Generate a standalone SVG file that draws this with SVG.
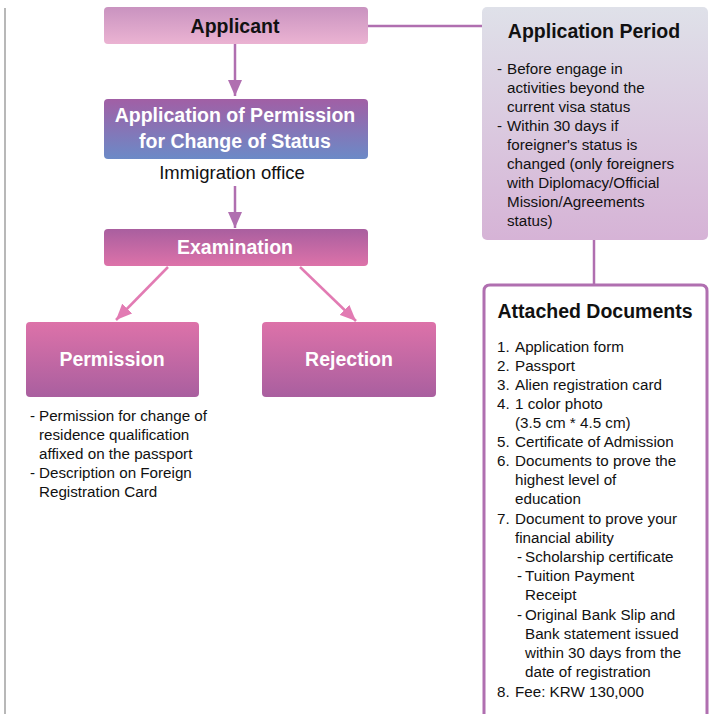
<svg xmlns="http://www.w3.org/2000/svg" width="717" height="714" viewBox="0 0 717 714">
<defs>
<linearGradient id="gApplicant" x1="0" y1="0" x2="0" y2="1"><stop offset="0" stop-color="#c993c0"/><stop offset="1" stop-color="#ebb3d2"/></linearGradient>
<linearGradient id="gApp" x1="0" y1="0" x2="0" y2="1"><stop offset="0" stop-color="#a15fa5"/><stop offset="1" stop-color="#6b8ac7"/></linearGradient>
<linearGradient id="gExam" x1="0" y1="0" x2="0" y2="1"><stop offset="0" stop-color="#a95f9f"/><stop offset="1" stop-color="#dd72a9"/></linearGradient>
<linearGradient id="gRes" x1="0" y1="0" x2="0" y2="1"><stop offset="0" stop-color="#dd72a9"/><stop offset="1" stop-color="#a95f9f"/></linearGradient>
<linearGradient id="gPeriod" x1="0" y1="0" x2="0" y2="1"><stop offset="0" stop-color="#dfe1e9"/><stop offset="1" stop-color="#d6b3d6"/></linearGradient>
<marker id="aPurple" viewBox="0 0 16 14" refX="16" refY="7" markerWidth="16" markerHeight="14" markerUnits="userSpaceOnUse" orient="auto"><path d="M0,0 L16,7 L0,14 Z" fill="#b06fb0"/></marker>
<marker id="aPink" viewBox="0 0 16 14" refX="16" refY="7" markerWidth="16" markerHeight="14" markerUnits="userSpaceOnUse" orient="auto"><path d="M0,0 L16,7 L0,14 Z" fill="#e27bb3"/></marker>
</defs>
<style>
.h{font-family:"Liberation Sans",Arial,sans-serif;font-weight:bold;font-size:19.5px;text-anchor:middle}
.w{fill:#ffffff}
.k{fill:#111111}
.t{font-family:"Liberation Sans",Arial,sans-serif;font-size:15.2px;fill:#111111}
.c{stroke:#b06fb0;stroke-width:2.5;fill:none}
.p{stroke:#e27bb3;stroke-width:2.5;fill:none}
</style>
<rect width="717" height="714" fill="#ffffff"/>
<line x1="5" y1="8" x2="5" y2="714" stroke="#a0a0a0" stroke-width="1.5"/>
<g id="connectors">
<line class="c" x1="368" y1="26" x2="483" y2="26"/>
<line class="c" x1="235" y1="44" x2="235" y2="96" marker-end="url(#aPurple)"/>
<line class="c" x1="235" y1="186" x2="235" y2="228" marker-end="url(#aPurple)"/>
<line class="p" x1="168" y1="267" x2="116" y2="320" marker-end="url(#aPink)"/>
<line class="p" x1="300" y1="267" x2="356" y2="321" marker-end="url(#aPink)"/>
<line class="c" x1="594" y1="240" x2="594" y2="284"/>
</g>
<g id="applicant">
<rect x="104" y="7" width="264" height="37" rx="4" fill="url(#gApplicant)"/>
<text class="h k" x="235" y="33">Applicant</text>
</g>
<g id="application">
<rect x="104" y="99" width="264" height="60" rx="4" fill="url(#gApp)"/>
<text class="h w" x="235" y="122">Application of Permission</text>
<text class="h w" x="235" y="148">for Change of Status</text>
<text class="t" x="232" y="179" style="font-size:18.5px;text-anchor:middle">Immigration office</text>
</g>
<g id="examination">
<rect x="104" y="229" width="264" height="37" rx="4" fill="url(#gExam)"/>
<text class="h w" x="235" y="254">Examination</text>
</g>
<g id="permission">
<rect x="26" y="322" width="173" height="75" rx="4" fill="url(#gRes)"/>
<text class="h w" x="112" y="366">Permission</text>
<text class="t"><tspan x="30" y="421">-</tspan><tspan x="39" y="421">Permission for change of</tspan><tspan x="39" y="440">residence qualification</tspan><tspan x="39" y="459">affixed on the passport</tspan><tspan x="30" y="478">-</tspan><tspan x="39" y="478">Description on Foreign</tspan><tspan x="39" y="497">Registration Card</tspan></text>
</g>
<g id="rejection">
<rect x="262" y="322" width="174" height="75" rx="4" fill="url(#gRes)"/>
<text class="h w" x="349" y="366">Rejection</text>
</g>
<g id="period">
<rect x="482" y="7" width="226" height="233" rx="5" fill="url(#gPeriod)"/>
<text class="h k" x="594" y="38">Application Period</text>
<text class="t"><tspan x="497" y="74">-</tspan><tspan x="507" y="74">Before engage in</tspan><tspan x="507" y="93">activities beyond the</tspan><tspan x="507" y="112">current visa status</tspan><tspan x="497" y="131">-</tspan><tspan x="507" y="131">Within 30 days if</tspan><tspan x="507" y="150">foreigner's status is</tspan><tspan x="507" y="169">changed (only foreigners</tspan><tspan x="507" y="188">with Diplomacy/Official</tspan><tspan x="507" y="207">Mission/Agreements</tspan><tspan x="507" y="226">status)</tspan></text>
</g>
<g id="documents">
<path d="M484,716 L484,291 Q484,285 490,285 L701,285 Q707,285 707,291 L707,716" fill="#ffffff" stroke="#b06fb0" stroke-width="3"/>
<text class="h k" x="595" y="318">Attached Documents</text>
<text class="t"><tspan x="497" y="352">1.</tspan><tspan x="515" y="352">Application form</tspan><tspan x="497" y="371">2.</tspan><tspan x="515" y="371">Passport</tspan><tspan x="497" y="390">3.</tspan><tspan x="515" y="390">Alien registration card</tspan><tspan x="497" y="409">4.</tspan><tspan x="515" y="409">1 color photo</tspan><tspan x="515" y="428">(3.5 cm * 4.5 cm)</tspan><tspan x="497" y="447">5.</tspan><tspan x="515" y="447">Certificate of Admission</tspan><tspan x="497" y="466">6.</tspan><tspan x="515" y="466">Documents to prove the</tspan><tspan x="515" y="485">highest level of</tspan><tspan x="515" y="504">education</tspan><tspan x="497" y="524">7.</tspan><tspan x="515" y="524">Document to prove your</tspan><tspan x="515" y="543">financial ability</tspan><tspan x="517" y="562">-</tspan><tspan x="525" y="562">Scholarship certificate</tspan><tspan x="517" y="581">-</tspan><tspan x="525" y="581">Tuition Payment</tspan><tspan x="525" y="600">Receipt</tspan><tspan x="517" y="620">-</tspan><tspan x="525" y="620">Original Bank Slip and</tspan><tspan x="525" y="639">Bank statement issued</tspan><tspan x="525" y="658">within 30 days from the</tspan><tspan x="525" y="677">date of registration</tspan><tspan x="497" y="697">8.</tspan><tspan x="515" y="697">Fee: KRW 130,000</tspan></text>
</g>
</svg>
